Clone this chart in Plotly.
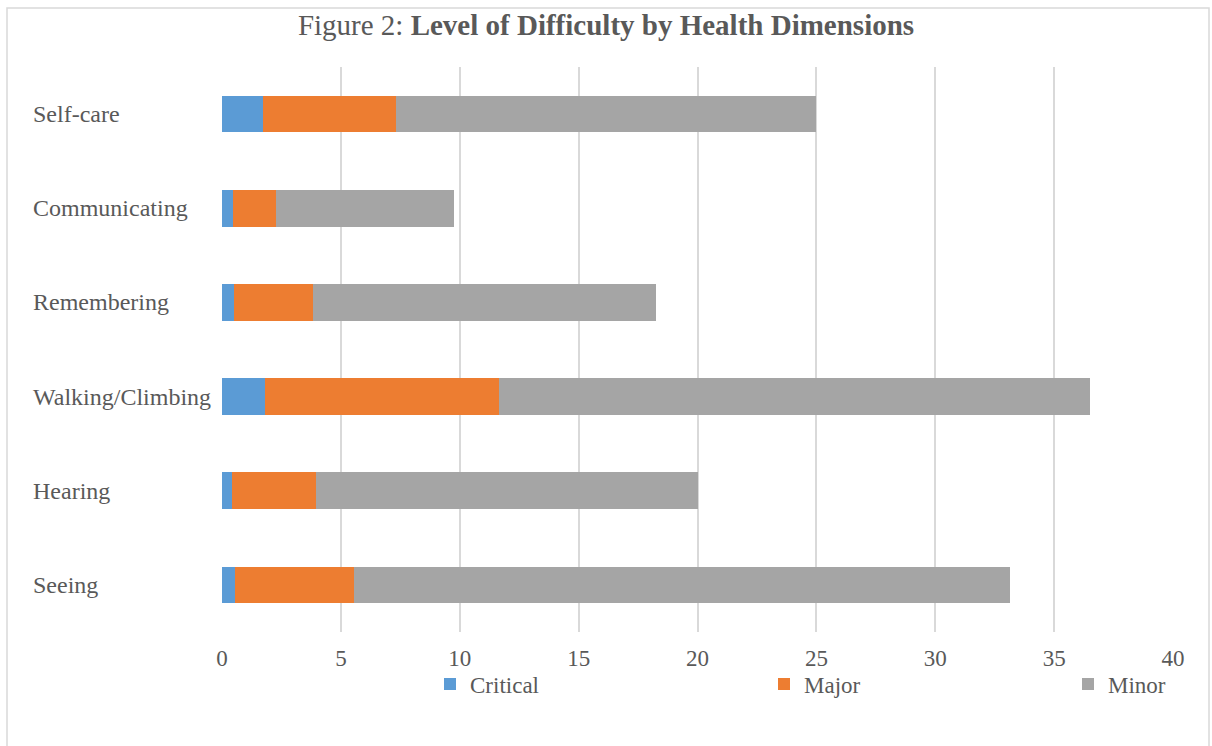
import plotly.graph_objects as go

categories = ["Self-care", "Communicating", "Remembering", "Walking/Climbing", "Hearing", "Seeing"]
critical = [1.72, 0.48, 0.52, 1.82, 0.41, 0.56]
major = [5.60, 1.81, 3.31, 9.82, 3.54, 4.99]
minor = [17.68, 7.46, 14.42, 24.86, 16.05, 27.61]
x_ticks = [0, 5, 10, 15, 20, 25, 30, 35, 40]

series = [("Critical", critical, "#5B9BD5", "legend"),
          ("Major", major, "#ED7D31", "legend"),
          ("Minor", minor, "#A5A5A5", "legend2")]

FONT = "Liberation Serif, Times New Roman, serif"
TXT = "#595959"

fig = go.Figure()
for name, vals, col, lg in series:
    fig.add_trace(go.Bar(y=categories, x=vals, name=name, orientation="h", legend=lg,
                         marker=dict(color=col, line=dict(width=0))))

W, H = 1212, 746
ml, mr, mt, mb = 222, 39, 67, 114
pw, ph = W - ml - mr, H - mt - mb

def px_x(p):
    return (p - ml) / pw

def px_y(p):
    return (H - mb - p) / ph

annotations = []
for c in categories:
    annotations.append(dict(text=c, xref="paper", yref="y", x=px_x(31), y=c,
                            xanchor="left", yanchor="middle", showarrow=False,
                            font=dict(family=FONT, size=24, color=TXT)))

legend_common = dict(orientation="h", yanchor="middle", traceorder="normal",
                     font=dict(family=FONT, size=23, color=TXT), bgcolor="rgba(0,0,0,0)")

fig.update_layout(
    width=W, height=H,
    margin=dict(l=ml, r=mr, t=mt, b=mb, autoexpand=False),
    paper_bgcolor="white", plot_bgcolor="white",
    font=dict(family=FONT, color=TXT),
    barmode="stack", bargap=0.61,
    title=dict(text="Figure 2: <b>Level of Difficulty by Health Dimensions</b>",
               x=0.5, xref="container", xanchor="center", y=1 - 25 / H, yref="container", yanchor="middle",
               font=dict(family=FONT, size=29, color=TXT)),
    xaxis=dict(range=[0, 40], tickvals=x_ticks, showgrid=True, gridcolor="#D9D9D9", gridwidth=1.5,
               zeroline=False, showline=False, ticks="", ticklabelstandoff=10,
               tickfont=dict(family=FONT, size=23, color=TXT)),
    yaxis=dict(autorange="reversed", showticklabels=False, showgrid=False, zeroline=False,
               showline=False, ticks=""),
    showlegend=True,
    legend=dict(x=px_x(430), xanchor="left", y=px_y(684),
                entrywidth=289, entrywidthmode="pixels", **legend_common),
    legend2=dict(x=px_x(1068), xanchor="left", y=px_y(684), **legend_common),
    annotations=annotations,
    shapes=[dict(type="rect", xref="paper", yref="paper",
                 x0=px_x(7), x1=px_x(1209), y0=px_y(752), y1=px_y(8),
                 line=dict(color="#D9D9D9", width=1.5), fillcolor="rgba(0,0,0,0)", layer="below")],
)

fig.write_html("out.html")
